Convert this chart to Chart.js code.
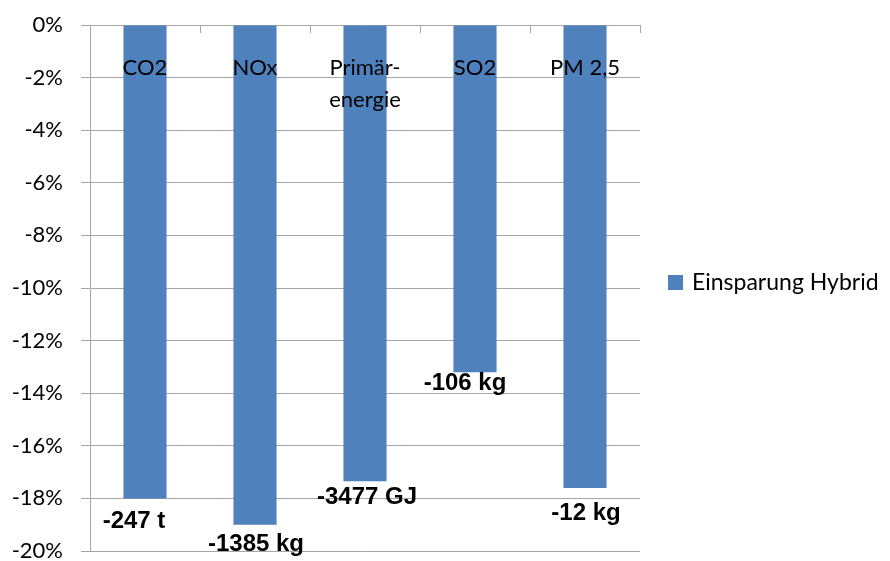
<!DOCTYPE html>
<html lang="de">
<head>
<meta charset="utf-8">
<title>Einsparung Hybrid</title>
<script src="https://cdn.jsdelivr.net/npm/chart.js@4/dist/chart.umd.min.js"></script>
<style>
  html, body { margin: 0; padding: 0; background: #ffffff; }
  #wrap { width: 890px; height: 561px; }
</style>
</head>
<body>
<div id="wrap"><canvas id="chart" width="890" height="561"></canvas></div>
<script>
// Kategorien (mehrzeilige Beschriftung als Array)
const categories = ['CO2', 'NOx', ['Primär-', 'energie'], 'SO2', 'PM 2,5'];
// Einsparung in Prozent
const savingsPercent = [-18.0, -19.0, -17.35, -13.2, -17.6];
// absolute Einsparung je Kategorie
const savingsLabels = ['-247 t', '-1385 kg', '-3477 GJ', '-106 kg', '-12 kg'];
const seriesName = 'Einsparung Hybrid';

const BAR_COLOR = '#4F81BD';
const GRID_COLOR = '#A6A6A6';
const TEXT_FONT = 'Lato, "Open Sans", sans-serif';

// Versatz der Wertbeschriftungen relativ zum Balkenende
const labelOffsets = [[-11, 23], [1, 20], [2, 16], [-10, 11], [1, 25]];

const valueLabels = {
  id: 'valueLabels',
  afterDatasetsDraw(chart) {
    const ctx = chart.ctx;
    const meta = chart.getDatasetMeta(0);
    ctx.save();
    ctx.font = 'bold 24px "Liberation Sans", Arial, sans-serif';
    ctx.fillStyle = '#000000';
    ctx.textAlign = 'center';
    ctx.textBaseline = 'middle';
    meta.data.forEach((bar, i) => {
      const [dx, dy] = labelOffsets[i];
      ctx.fillText(savingsLabels[i], bar.x + dx, bar.y + dy);
    });
    ctx.restore();
  }
};

const sideLegend = {
  id: 'sideLegend',
  afterDraw(chart) {
    const ctx = chart.ctx;
    const ds = chart.data.datasets[0];
    const x = chart.chartArea.right + 28;
    const y = 283;
    ctx.save();
    ctx.fillStyle = ds.backgroundColor;
    ctx.fillRect(x, y - 8, 15, 15);
    ctx.fillStyle = '#000000';
    ctx.font = '23px ' + TEXT_FONT;
    ctx.textAlign = 'left';
    ctx.textBaseline = 'middle';
    ctx.fillText(ds.label, x + 24, y);
    ctx.restore();
  }
};

new Chart(document.getElementById('chart'), {
  type: 'bar',
  data: {
    labels: categories,
    datasets: [{
      label: seriesName,
      data: savingsPercent,
      backgroundColor: BAR_COLOR,
      borderWidth: 0,
      barPercentage: 0.392,
      categoryPercentage: 1.0
    }]
  },
  options: {
    responsive: false,
    animation: false,
    devicePixelRatio: 1,
    layout: { padding: { left: 0, top: 25, right: 250, bottom: 10 } },
    plugins: {
      legend: { display: false },
      tooltip: { enabled: false }
    },
    scales: {
      x: {
        position: { y: 0 },
        afterFit(scale) { scale.height = 0; },
        grid: {
          drawOnChartArea: false,
          drawTicks: true,
          tickLength: 8,
          color: GRID_COLOR,
          offset: true
        },
        border: { display: false },
        ticks: {
          z: 1,
          color: '#000000',
          padding: 19,
          maxRotation: 0,
          autoSkip: false,
          font: { family: TEXT_FONT, size: 22, lineHeight: 1.45 }
        }
      },
      y: {
        min: -20,
        max: 0,
        afterFit(scale) {
          scale.width = 90;
          scale.paddingTop = 0;
          scale.paddingBottom = 0;
        },
        grid: {
          color: GRID_COLOR,
          drawTicks: true,
          tickLength: 9
        },
        border: { display: true, color: GRID_COLOR },
        ticks: {
          stepSize: 2,
          color: '#000000',
          padding: 18,
          font: { family: TEXT_FONT, size: 22 },
          callback: (v) => v + '%'
        }
      }
    }
  },
  plugins: [valueLabels, sideLegend]
});
</script>
</body>
</html>
